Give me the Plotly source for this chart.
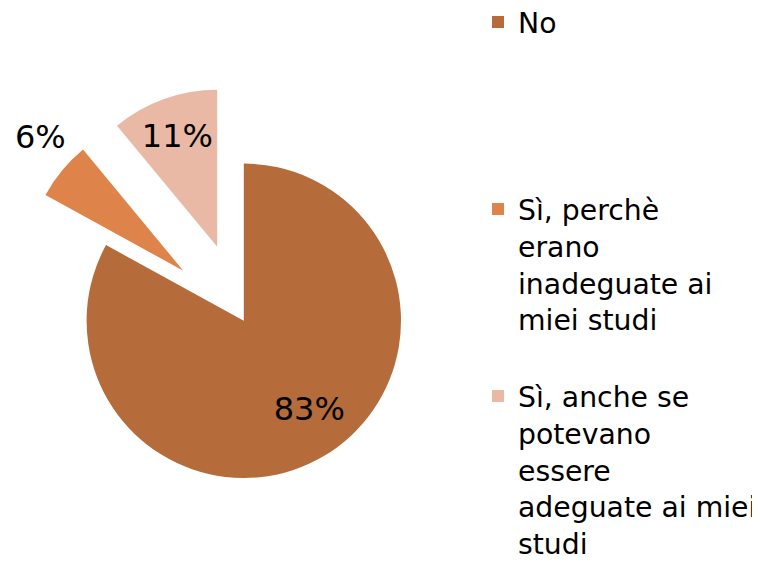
import plotly.graph_objects as go

NB = "\u00a0"
categories = [
    "No",
    "Sì, perchè<br>erano<br>inadeguate ai<br>miei studi",
    "Sì, anche se<br>potevano<br>essere<br>adeguate ai miei<br>studi",
]
values = [83, 6, 11]
colors = ["#B56B3A", "#DE834A", "#E9B9A6"]
pulls = [0, 0.5, 0.5]
text_positions = ["inside", "none", "inside"]

# extra blank lines to reproduce the vertical spacing of the legend entries
legend_labels = [
    categories[0] + ("<br>" + NB) * 4,
    categories[1] + ("<br>" + NB) * 1,
    categories[2],
]
# non-breaking spaces / blank line nudge the big label toward the lower right
text_templates = [NB + "<br>" + NB * 5 + "%{percent:.0%}", "%{percent:.0%}", "%{percent:.0%}"]

FONT = "DejaVu Sans, Liberation Sans, Arial"

fig = go.Figure(
    go.Pie(
        labels=legend_labels,
        values=values,
        sort=False,
        direction="clockwise",
        rotation=0,
        pull=pulls,
        marker=dict(colors=colors, line=dict(width=0)),
        texttemplate=text_templates,
        textposition=text_positions,
        insidetextorientation="horizontal",
        textfont=dict(family=FONT, size=32, color="black"),
        domain=dict(x=[0, 471.6 / 760], y=[19.4 / 568, 491.0 / 568]),
        hoverinfo="label+percent",
    )
)

# outside label of the small slice, placed where the reference shows it
pct_small = round(values[1] / sum(values) * 100)
fig.add_annotation(
    text=f"{pct_small}%",
    x=32 / 760,
    y=1 - 129 / 568,
    xref="paper",
    yref="paper",
    xanchor="center",
    yanchor="middle",
    showarrow=False,
    font=dict(family=FONT, size=32, color="black"),
)

fig.update_layout(
    width=760,
    height=568,
    margin=dict(l=0, r=0, t=0, b=0, autoexpand=False),
    paper_bgcolor="white",
    plot_bgcolor="white",
    uniformtext=dict(minsize=32, mode="show"),
    font=dict(family=FONT, color="black"),
)

legend_opts = dict(
    x=470 / 760,
    y=1.019,
    xanchor="left",
    yanchor="top",
    valign="top",
    font=dict(family=FONT, size=28.3, color="black"),
    bgcolor="rgba(0,0,0,0)",
)
try:
    fig.update_layout(legend=dict(legend_opts, maxheight=700))
except ValueError:
    legend_opts["y"] = 1
    legend_opts["font"]["size"] = 28
    fig.update_layout(legend=legend_opts)

fig.write_html("out.html")
